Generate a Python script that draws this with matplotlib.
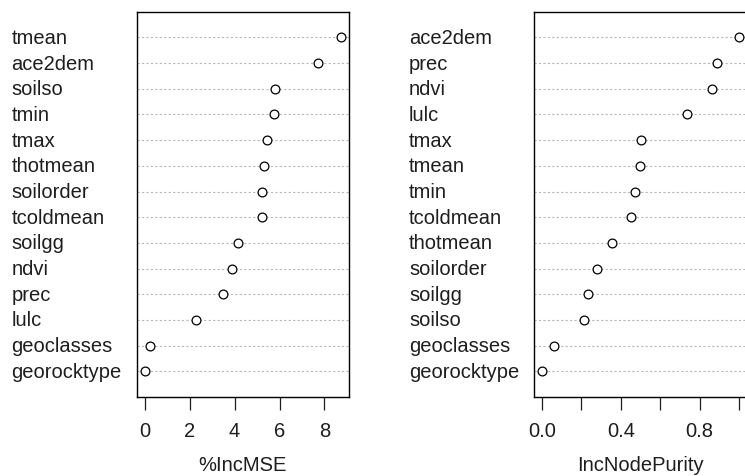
import matplotlib
matplotlib.use("Agg")
import matplotlib.pyplot as plt
from matplotlib.transforms import blended_transform_factory

plt.rcParams['font.family'] = ['Liberation Sans', 'DejaVu Sans']

# %IncMSE panel (top to bottom)
mse_vars = ['tmean', 'ace2dem', 'soilso', 'tmin', 'tmax', 'thotmean', 'soilorder',
            'tcoldmean', 'soilgg', 'ndvi', 'prec', 'lulc', 'geoclasses', 'georocktype']
mse_vals = [8.74, 7.72, 5.80, 5.74, 5.45, 5.33, 5.24, 5.24, 4.17, 3.89, 3.49, 2.29, 0.25, 0.0]

# IncNodePurity panel (top to bottom)
pur_vars = ['ace2dem', 'prec', 'ndvi', 'lulc', 'tmax', 'tmean', 'tmin', 'tcoldmean',
            'thotmean', 'soilorder', 'soilgg', 'soilso', 'geoclasses', 'georocktype']
pur_vals = [1.00, 0.887, 0.865, 0.734, 0.504, 0.497, 0.47, 0.45, 0.356, 0.28,
            0.234, 0.212, 0.06, 0.0]

mse_ticks = [0, 2, 4, 6, 8]
mse_ticklabels = ['0', '2', '4', '6', '8']
pur_ticks = [0.0, 0.2, 0.4, 0.6, 0.8, 1.0]
pur_ticklabels = ['0.0', '', '0.4', '', '0.8', '']

TXT = '#1e1e1e'
FS = 14.5
W, H = 745, 477
fig = plt.figure(figsize=(W / 100, H / 100), dpi=100)


def dotchart(rect, names, vals, ticks, ticklabels, xlabel, label_x):
    ax = fig.add_axes(rect)
    n = len(vals)
    ys = list(range(n, 0, -1))
    for y in ys:
        ax.axhline(y, color='#b8b8b8', lw=0.8, ls=(0, (2, 2)), zorder=1)
    ax.scatter(vals, ys, s=40, facecolors='white', edgecolors='black',
               linewidths=0.9, zorder=3)
    lo, hi = min(vals), max(vals)
    r = hi - lo
    ax.set_xlim(lo - 0.04 * r, hi + 0.04 * r)
    ax.set_ylim(0.0, 15.0)
    ax.set_yticks([])
    ax.set_xticks(ticks)
    ax.set_xticklabels(ticklabels, fontsize=FS, color=TXT)
    ax.tick_params(axis='x', length=9, width=0.9, pad=8, color=TXT)
    ax.set_xlabel(xlabel, fontsize=FS, color=TXT, labelpad=11)
    for sp in ax.spines.values():
        sp.set_linewidth(1.0)
        sp.set_color('black')
    trans = blended_transform_factory(fig.transFigure, ax.transData)
    for name, y in zip(names, ys):
        ax.text(label_x / W, y, name, transform=trans, ha='left', va='center',
                fontsize=FS, color=TXT, clip_on=False)
    return ax


bottom = 1 - 398 / H
height = (398 - 12.7) / H
dotchart([136.7 / W, bottom, (349 - 136.7) / W, height], mse_vars, mse_vals,
         mse_ticks, mse_ticklabels, '%IncMSE', 11.5)
dotchart([534 / W, bottom, (747 - 534) / W, height], pur_vars, pur_vals,
         pur_ticks, pur_ticklabels, 'IncNodePurity', 409)

fig.savefig('out.png', dpi=100, facecolor='white')
